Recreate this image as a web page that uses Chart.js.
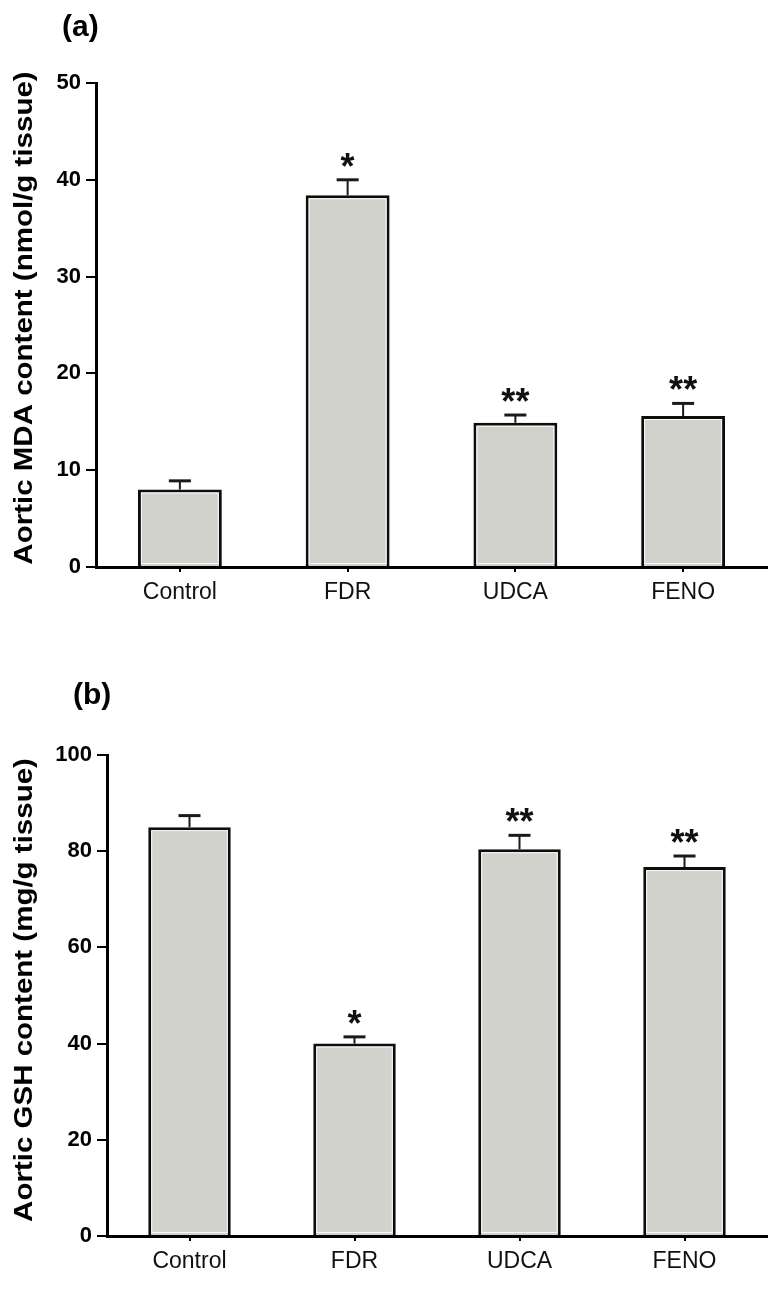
<!DOCTYPE html>
<html>
<head>
<meta charset="utf-8">
<script src="https://cdn.jsdelivr.net/npm/chart.js@4.4.1/dist/chart.umd.min.js"></script>
<style>
  html, body { margin: 0; padding: 0; background: #ffffff; }
  #wrap { position: relative; width: 777px; height: 1314px; overflow: hidden; }
  .panel { position: absolute; left: 0; }
</style>
</head>
<body>
<div id="wrap">
  <div class="panel" style="top:0px;width:777px;height:640px"><canvas id="chartA" width="777" height="640"></canvas></div>
  <div class="panel" style="top:640px;width:777px;height:674px"><canvas id="chartB" width="777" height="674"></canvas></div>
</div>
<script>
// ---- data ----
const categories = ['Control', 'FDR', 'UDCA', 'FENO'];

const mdaMean  = [8.0, 38.4, 14.9, 15.6];
const mdaError = [0.9, 1.6, 0.8, 1.3];
const mdaStars = ['', '*', '**', '**'];
const mdaTickMax = 50;
const mdaTickStep = 10;

const gshMean  = [85.0, 40.0, 80.4, 76.7];
const gshError = [2.4, 1.4, 2.9, 2.3];
const gshStars = ['', '*', '**', '**'];
const gshTickMax = 100;
const gshTickStep = 20;

const FONT = "'Liberation Sans', Arial, Helvetica, sans-serif";

// ---- plugin: error bars, stars, inner highlight, panel label, y title ----
const decorPlugin = {
  id: 'decor',
  afterDatasetsDraw(chart, args, opts) {
    const ctx = chart.ctx;
    const meta = chart.getDatasetMeta(0);
    const yScale = chart.scales.y;
    const ds = chart.data.datasets[0];
    meta.data.forEach((bar, i) => {
      const props = bar.getProps(['x', 'y', 'base', 'width'], true);
      // inner white highlight line
      ctx.save();
      ctx.strokeStyle = 'rgba(255,255,255,0.85)';
      ctx.lineWidth = 1;
      const inL = props.x - props.width / 2 + 3.5;
      const inR = props.x + props.width / 2 - 3.5;
      ctx.strokeRect(inL, props.y + 3.5, inR - inL, props.base - props.y - 6);
      ctx.restore();

      const top = ds.data[i] + opts.errors[i];
      const yTop = yScale.getPixelForValue(top);
      const yBar = props.y;
      ctx.save();
      ctx.strokeStyle = '#1a1a1a';
      ctx.lineWidth = 2;
      ctx.beginPath();
      ctx.moveTo(props.x, yBar);
      ctx.lineTo(props.x, yTop);
      ctx.stroke();
      ctx.lineWidth = 3;
      ctx.beginPath();
      ctx.moveTo(props.x - 11, yTop);
      ctx.lineTo(props.x + 11, yTop);
      ctx.stroke();
      ctx.restore();

      const s = opts.stars[i];
      if (s) {
        ctx.save();
        ctx.fillStyle = '#111';
        ctx.font = 'bold 36px ' + FONT;
        ctx.textAlign = 'center';
        ctx.textBaseline = 'alphabetic';
        ctx.fillText(s, props.x, yTop - 21 + 20);
        ctx.restore();
      }
    });
    // panel label
    ctx.save();
    ctx.fillStyle = '#000';
    ctx.font = 'bold 30px ' + FONT;
    ctx.textAlign = 'left';
    ctx.textBaseline = 'middle';
    ctx.fillText(opts.label, opts.labelX, opts.labelY);
    ctx.restore();
    // y-axis title (rotated, stretched along its length like the reference)
    ctx.save();
    ctx.translate(31.5, opts.titleY);
    ctx.rotate(-Math.PI / 2);
    ctx.scale(1.18, 1);
    ctx.fillStyle = '#000';
    ctx.font = 'bold 25px ' + FONT;
    ctx.textAlign = 'center';
    ctx.textBaseline = 'alphabetic';
    ctx.fillText(opts.title, 0, 0);
    ctx.restore();
  }
};

function makeChart(canvasId, values, errors, stars, label, labelX, labelY,
                   yTitle, titleY, yMax, yStep, axisWidth, topPad, xAxisHeight) {
  return new Chart(document.getElementById(canvasId), {
    type: 'bar',
    data: {
      labels: categories,
      datasets: [{
        data: values,
        backgroundColor: '#d1d2cb',
        borderColor: '#0d0d0d',
        borderWidth: 3,
        borderSkipped: 'bottom',
        barPercentage: 0.5,
        categoryPercentage: 1.0
      }]
    },
    options: {
      responsive: false,
      animation: false,
      devicePixelRatio: 1,
      layout: { padding: { top: topPad, right: 10, left: 0, bottom: 0 } },
      plugins: {
        legend: { display: false },
        tooltip: { enabled: false },
        decor: { errors: errors, stars: stars, label: label, labelX: labelX, labelY: labelY,
                 title: yTitle, titleY: titleY }
      },
      scales: {
        x: {
          type: 'category',
          offset: true,
          grid: {
            offset: false,
            drawOnChartArea: false,
            drawTicks: true,
            tickLength: 5,
            color: '#000',
            lineWidth: 2
          },
          border: { display: true, color: '#000', width: 3 },
          ticks: {
            color: '#111',
            padding: 7,
            font: { family: FONT, size: 23, weight: 'normal' }
          },
          afterFit(scale) { scale.height = xAxisHeight; }
        },
        y: {
          min: 0,
          max: yMax,
          ticks: {
            stepSize: yStep,
            color: '#000',
            padding: 5,
            font: { family: FONT, size: 22, weight: 'bold' }
          },
          grid: {
            drawOnChartArea: false,
            drawTicks: true,
            tickLength: 10,
            color: '#000',
            lineWidth: 2
          },
          border: { display: true, color: '#000', width: 3 },
          title: { display: false },
          afterFit(scale) { scale.width = axisWidth; }
        }
      }
    },
    plugins: [decorPlugin]
  });
}

makeChart('chartA', mdaMean, mdaError, mdaStars, '(a)', 62, 28,
  'Aortic MDA content (nmol/g tissue)', 318, mdaTickMax, mdaTickStep, 96, 83, 73);
makeChart('chartB', gshMean, gshError, gshStars, '(b)', 73, 56,
  'Aortic GSH content (mg/g tissue)', 990 - 640, gshTickMax, gshTickStep, 107, 115, 78);
</script>
</body>
</html>
